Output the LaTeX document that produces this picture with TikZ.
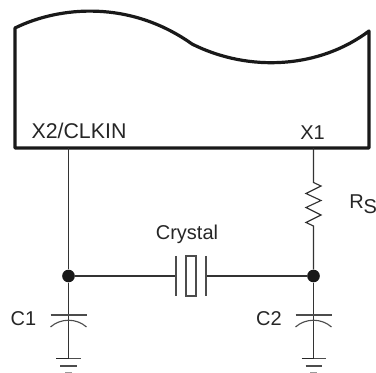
\documentclass[tikz,border=0pt]{standalone}
\usepackage{fontspec}
\setmainfont{Liberation Sans}
\usetikzlibrary{calc}
\tikzset{
  pinlabel/.style={font=\fontsize{15}{15}\selectfont,text=black!85,inner sep=0pt},
  wire/.style={line width=0.85pt,draw=black!80},
  plate/.style={line width=0.85pt,draw=black!70},
  junction/.style={circle,fill=black!90,inner sep=0pt,minimum size=9.5pt}
}
\newcommand{\snode}[3]{\node [pinlabel] (#1) at (#2) {#3}}
\newcommand{\gnd}[1]{
  \draw[line width=1.3pt,draw=black!85] ($(#1)+(-12,0)$) -- (#1);
  \draw[plate] (#1) -- ($(#1)+(12,0)$);
  \draw[plate] ($(#1)+(-8,7.5)$) -- ($(#1)+(8,7.5)$);
  \draw[plate,draw=black!40] ($(#1)+(-3.5,14)$) -- ($(#1)+(3.5,14)$);
}
\newcommand{\capac}[3]{
  \coordinate (#1p) at (#2,#3);
  \draw[plate,line width=1.1pt] ($(#1p)+(-18,0)$) -- ($(#1p)+(18,0)$);
  \draw[plate] ($(#1p)+(-18,12)$) .. controls ($(#1p)+(-8,3)$) and ($(#1p)+(8,3)$) .. ($(#1p)+(18,12)$);
}
\begin{document}
\begin{tikzpicture}[x=0.75pt,y=-0.75pt]
\useasboundingbox (0,0) rectangle (376,373);

% chip outline
\draw[line width=2.4pt,draw=black!90,line join=round]
  (15,28) .. controls (60,6) and (130,0) .. (192,44)
  .. controls (250,73) and (320,68) .. (369,31)
  -- (369,148) -- (15,148) -- cycle;

\node [pinlabel,font=\fontsize{16}{16}\selectfont] (CLK) at (79,130.5) {X2/CLKIN};
\snode{XONE}{312.5,133}{X1};
\snode{CRY}{187,234}{Crystal};
\snode{CONE}{23.5,319}{C1};
\snode{CTWO}{269,319}{C2};
\node [pinlabel,anchor=base west] (RS) at (349,209) {R\raisebox{-3.5pt}{S}};

\node [junction] (JL) at (68.5,276) {};
\node [junction] (JR) at (313.5,276) {};
\coordinate (PL) at (68.5,148);
\coordinate (PR) at (313.5,148);
\coordinate (GL) at (68.5,358.5);
\coordinate (GR) at (313.5,358.5);
\coordinate (XL) at (176,276);
\coordinate (XR) at (206,276);

% wires
\draw[wire] (PL) -- (JL);
\draw[wire] (JL) -- (GL);
\draw[wire] (JR) -- (GR);
\draw[wire] (JL) -- (XL);
\draw[wire] (XR) -- (JR);
\draw[wire] (PR) -- (313.5,182.5) -- (321,186) -- (306,193.5) -- (321,200.5)
  -- (306,207.5) -- (321,215) -- (306,222.5) -- (313.5,226) -- (JR);

% crystal
\draw[plate] (XL) ++(0,-20) -- ++(0,40);
\draw[plate] (XR) ++(0,-20) -- ++(0,40);
\draw[plate] (186,256) rectangle (196,296);

\capac{CL}{68.5}{315};
\capac{CR}{313.5}{315};
\gnd{GL}
\gnd{GR}
\end{tikzpicture}
\end{document}
